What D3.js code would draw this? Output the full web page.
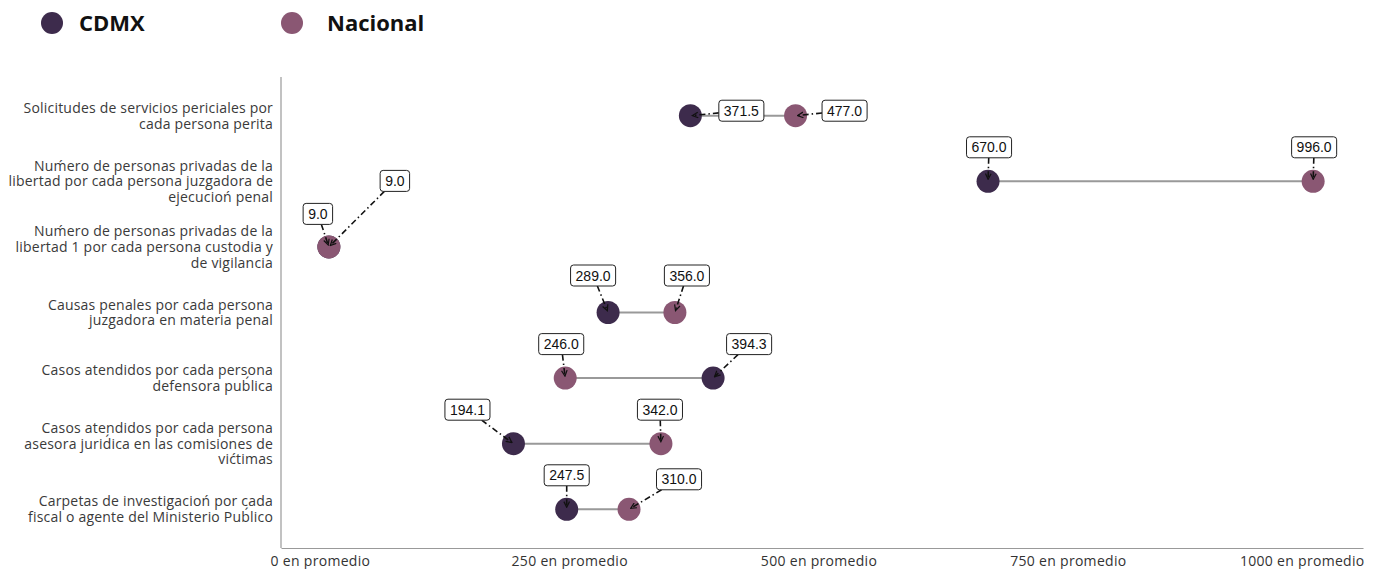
<!DOCTYPE html>
<html><head><meta charset="utf-8">
<script src="https://cdn.jsdelivr.net/npm/d3@7"></script>
<style>body{margin:0;background:#fff}</style></head>
<body><svg id="c" width="1393" height="569"></svg>
<script>
const categories = [
  ["Solicitudes de servicios periciales por","cada persona perita"],
  ["Num\u0301ero de personas privadas de la","libertad por cada persona juzgadora de","ejecucion\u0301 penal"],
  ["Num\u0301ero de personas privadas de la","libertad 1 por cada persona custodia y","de vigilancia"],
  ["Causas penales por cada persona","juzgadora en materia penal"],
  ["Casos atendidos por cada persona","defensora pub\u0301lica"],
  ["Casos atendidos por cada persona","asesora jurid\u0301ica en las comisiones de","vic\u0301timas"],
  ["Carpetas de investigacion\u0301 por cada","fiscal o agente del Ministerio Pub\u0301lico"]
];
const seriesNames = ["CDMX", "Nacional"];
const cdmx     = [371.5, 670.0, 9.0, 289.0, 394.3, 194.1, 247.5];
const nacional = [477.0, 996.0, 9.0, 356.0, 246.0, 342.0, 310.0];
const xTicks = [0, 250, 500, 750, 1000];
const tickSuffix = " en promedio";

// annotation label offsets (px from dot)
const cdmxOffsets = [[51,-5],[1,-34],[-11,-33],[-15,-37],[36,-34],[-46,-34],[0,-34]];
const nacOffsets  = [[49,-5],[1,-34],[66,-66],[12,-37],[-4,-34],[-1,-34],[50,-30]];

const colors = {CDMX: "#3d2b4c", Nacional: "#8a5773"};

const svg = d3.select("#c");
const x = d3.scaleLinear().domain([-39, 1046]).range([281, 1363]);
const idx = d3.range(categories.length);
const y = d3.scalePoint().domain(idx).range([77, 548]).padding(0.59);

// marker
svg.append("defs").append("marker")
  .attr("id","arr").attr("viewBox","0 0 8 8").attr("refX",7).attr("refY",4)
  .attr("markerWidth",7).attr("markerHeight",7).attr("markerUnits","userSpaceOnUse")
  .attr("orient","auto")
  .append("path").attr("d","M0.5,0.8 L7,4 L0.5,7.2").attr("fill","none")
  .attr("stroke","#111").attr("stroke-width",1.4);

// axes
const xAxis = svg.append("g").attr("transform","translate(0,548)")
  .call(d3.axisBottom(x).tickValues(xTicks).tickSize(0).tickPadding(8).tickFormat(d => d + tickSuffix));
xAxis.select(".domain").attr("stroke","#999").attr("stroke-width",1.2);
xAxis.selectAll("text").attr("font-family","'Open Sans', sans-serif").attr("font-size",14)
  .attr("letter-spacing",0.3).attr("fill","#333");
xAxis.selectAll(".tick").filter(d => d === 1000).select("text")
  .attr("text-anchor","end").attr("x", x.range()[1] - x(1000) + 1);

svg.append("line").attr("x1",281).attr("x2",281).attr("y1",77).attr("y2",548)
  .attr("stroke","#999").attr("stroke-width",1.2);

// y labels
const yl = svg.append("g");
idx.forEach(i => {
  const lines = categories[i];
  const lh = 15.7;
  const t = yl.append("text").attr("text-anchor","end")
    .attr("font-family","'Open Sans', sans-serif").attr("font-size",14)
    .attr("letter-spacing",0.2).attr("fill","#3a3a3a");
  lines.forEach((ln, k) => {
    t.append("tspan").attr("x",273)
      .attr("y", y(i) + (k - (lines.length-1)/2) * lh + 5).text(ln);
  });
});

// connecting lines
svg.append("g").selectAll("line").data(idx).join("line")
  .attr("x1", i => x(cdmx[i])).attr("x2", i => x(nacional[i]))
  .attr("y1", i => y(i)).attr("y2", i => y(i))
  .attr("stroke","#999").attr("stroke-width",2);

// dots
const r = 11.5;
svg.append("g").selectAll("circle").data(idx).join("circle")
  .attr("cx", i => x(cdmx[i])).attr("cy", i => y(i)).attr("r", r).attr("fill", colors.CDMX);
svg.append("g").selectAll("circle").data(idx).join("circle")
  .attr("cx", i => x(nacional[i])).attr("cy", i => y(i)).attr("r", r).attr("fill", colors.Nacional);

// annotations
const ann = svg.append("g");
function annotate(vals, offs) {
  idx.forEach(i => {
    const px = x(vals[i]), py = y(i);
    const cx = px + offs[i][0], cy = py + offs[i][1];
    const txt = vals[i].toFixed(1);
    const g = ann.append("g");
    const tnode = g.append("text").attr("x",cx).attr("y",cy+5)
      .attr("text-anchor","middle").attr("font-family","'Liberation Sans', Arial, sans-serif")
      .attr("font-size",14).attr("fill","#111").text(txt);
    const w = tnode.node().getComputedTextLength() + 10, h = 21;
    const hw = w/2, hh = h/2;
    const dx = px - cx, dy = py - cy;
    const s = Math.min(Math.abs(dx) > 0 ? hw/Math.abs(dx) : Infinity, Math.abs(dy) > 0 ? hh/Math.abs(dy) : Infinity);
    const sx = cx + dx*s, sy = cy + dy*s;
    const len = Math.hypot(dx, dy);
    const ex = px - dx/len*2, ey = py - dy/len*2;
    g.insert("line","text").attr("x1",sx).attr("y1",sy).attr("x2",ex).attr("y2",ey)
      .attr("stroke","#111").attr("stroke-width",1.6).attr("stroke-dasharray","6,3,1.5,3")
      .attr("marker-end","url(#arr)");
    g.insert("rect","text").attr("x",cx-hw).attr("y",cy-hh).attr("width",w).attr("height",h)
      .attr("rx",3).attr("fill","#fff").attr("stroke","#222").attr("stroke-width",1);
  });
}
annotate(cdmx, cdmxOffsets);
annotate(nacional, nacOffsets);

// legend
const leg = svg.append("g");
[[seriesNames[0], 52, 79], [seriesNames[1], 292, 327]].forEach(([n, cx, tx]) => {
  leg.append("circle").attr("cx",cx).attr("cy",23).attr("r",11).attr("fill",colors[n]);
  leg.append("text").attr("x",tx).attr("y",30.5).attr("font-family","'Open Sans', sans-serif")
    .attr("font-weight","bold").attr("font-size",22).attr("fill","#111").text(n);
});
</script>
</body></html>
